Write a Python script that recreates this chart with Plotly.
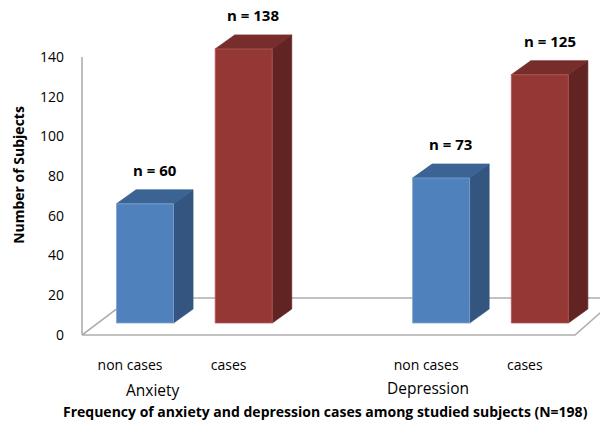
import plotly.graph_objects as go

# ---------------- data ----------------
categories = ["non cases", "cases", "non cases", "cases"]
groups = ["Anxiety", "Depression"]
values = [60, 138, 73, 125]
value_labels = ["n = 60", "n = 138", "n = 73", "n = 125"]
slot_positions = [0, 1, 3, 4]
y_ticks = [0, 20, 40, 60, 80, 100, 120, 140]

# ---------------- styling / geometry ----------------
FRONT = ["#4F81BD", "#953735", "#4F81BD", "#953735"]
SIDE = ["#33557F", "#622423", "#33557F", "#622423"]
TOP = ["#3B6494", "#762D2B", "#3B6494", "#762D2B"]
EDGE = ["#7FA3D0", "#B45A58", "#7FA3D0", "#B45A58"]

W, H = 600, 423
ML, MR, MT, MB = 82, 0, 5, 78
PX_PER_UNIT = 278 / 140.0          # vertical pixels per subject
PX_PER_SLOT = 98.7                 # horizontal pixels per category slot
ZERO_PX = 335                      # pixel row of the value 0
FIRST_BAR_PX = 145                 # pixel column of first slot centre
PLOT_H = H - MT - MB
PLOT_W = W - ML - MR

y_lo = -((H - MB) - ZERO_PX) / PX_PER_UNIT
y_hi = (ZERO_PX - MT) / PX_PER_UNIT
x_lo = (ML - FIRST_BAR_PX) / PX_PER_SLOT
x_hi = (W - MR - FIRST_BAR_PX) / PX_PER_SLOT

bar_w = 57 / PX_PER_SLOT
depth_dx = 19.5 / PX_PER_SLOT
depth_dy = 14 / PX_PER_UNIT
base = 12 / PX_PER_UNIT
floor_depth = 37 / PX_PER_UNIT
floor_left_back = (131 - FIRST_BAR_PX) / PX_PER_SLOT
floor_right_front = (575 - FIRST_BAR_PX) / PX_PER_SLOT
floor_right_back = (617 - FIRST_BAR_PX) / PX_PER_SLOT
tick_shift = 15 / PX_PER_SLOT


def paper_y(py):
    return ((H - MB) - py) / PLOT_H


def paper_x(px):
    return (px - ML) / PLOT_W


fig = go.Figure()


def face(xs, ys, color, line_color=None):
    fig.add_trace(go.Scatter(
        x=xs + [xs[0]], y=ys + [ys[0]], mode="lines", fill="toself",
        fillcolor=color, line=dict(color=line_color or color, width=0.8),
        hoverinfo="skip", showlegend=False))


for i, v in enumerate(values):
    xc = slot_positions[i]
    xl, xr = xc - bar_w / 2, xc + bar_w / 2
    b0, b1 = base, base + v
    # side face
    face([xr, xr + depth_dx, xr + depth_dx, xr],
         [b0, b0 + depth_dy, b1 + depth_dy, b1], SIDE[i])
    # top face
    face([xl, xr, xr + depth_dx, xl + depth_dx],
         [b1, b1, b1 + depth_dy, b1 + depth_dy], TOP[i])
    # front face
    face([xl, xr, xr, xl], [b0, b0, b1, b1], FRONT[i], EDGE[i])
    fig.add_annotation(x=xc + depth_dx / 2, y=b1 + depth_dy + 10,
                       text="<b>%s</b>" % value_labels[i], showarrow=False,
                       font=dict(family="Open Sans", size=15, color="#000"),
                       xanchor="center", yanchor="middle")

# floor outline and wall edge
grey = "#AEAEAE"
fig.add_shape(type="path", layer="below", xref="x", yref="y",
              path="M %f,0 L %f,0 L %f,%f L %f,%f Z" % (
                  x_lo, floor_right_front, floor_right_back, floor_depth,
                  floor_left_back, floor_depth),
              line=dict(color=grey, width=1.6))
fig.add_shape(type="line", layer="below", xref="paper", yref="y",
              x0=0, x1=0, y0=0, y1=y_ticks[-1],
              line=dict(color=grey, width=1.6))

# group labels
group_px = [153, 428]
group_py = [390, 388]
for g, gx, gy in zip(groups, group_px, group_py):
    fig.add_annotation(x=paper_x(gx), y=paper_y(gy), xref="paper", yref="paper",
                       text=g, showarrow=False,
                       font=dict(family="Open Sans", size=15.5, color="#000"),
                       xanchor="center", yanchor="middle")

# chart caption
fig.add_annotation(x=paper_x(325), xref="paper",
                   y=paper_y(411), yref="paper",
                   text="<b>Frequency of anxiety and depression cases among studied subjects (N=198)</b>",
                   showarrow=False, xanchor="center", yanchor="middle",
                   font=dict(family="Open Sans", size=14, color="#000"))

fig.update_layout(
    width=W, height=H,
    margin=dict(l=ML, r=MR, t=MT, b=MB, pad=0),
    paper_bgcolor="white", plot_bgcolor="white",
    showlegend=False,
    xaxis=dict(range=[x_lo, x_hi], showgrid=False, zeroline=False,
               showline=False, fixedrange=True,
               tickmode="array",
               tickvals=[p - tick_shift for p in slot_positions],
               ticktext=categories, ticks="", ticklabelstandoff=10,
               tickfont=dict(family="Open Sans", size=14, color="#000")),
    yaxis=dict(range=[y_lo, y_hi], showgrid=False, zeroline=False,
               showline=False, fixedrange=True,
               tickmode="array", tickvals=y_ticks, ticks="",
               ticklabelstandoff=17,
               tickfont=dict(family="Open Sans", size=14, color="#000"),
               title=dict(text="<b>Number of Subjects</b>", standoff=12,
                          font=dict(family="Open Sans", size=14, color="#000"))),
)

fig.write_html("out.html")
